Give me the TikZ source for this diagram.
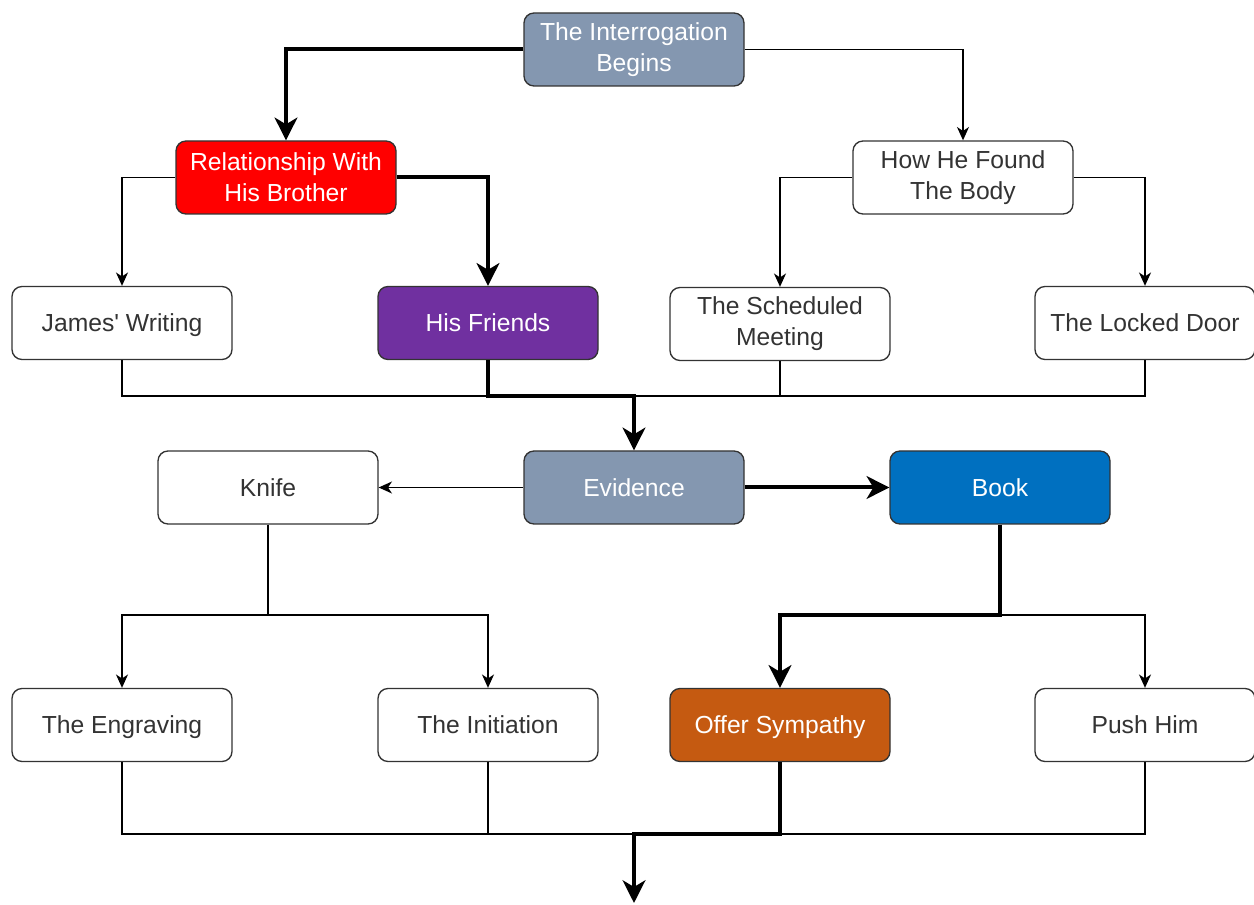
\documentclass[tikz,border=0pt]{standalone}
\usepackage{fontspec}
\setmainfont{Liberation Sans}[Ligatures=TeXOff]
\usetikzlibrary{arrows.meta}
\definecolor{slate}{HTML}{8497B0}
\definecolor{redbox}{HTML}{FF0000}
\definecolor{purplebox}{HTML}{7030A0}
\definecolor{bluebox}{HTML}{0070C0}
\definecolor{orangebox}{HTML}{C55A11}
\definecolor{edgegray}{HTML}{333333}
\definecolor{txtgray}{HTML}{333333}
\tikzset{
  box/.style={draw=edgegray, line width=1pt, rounded corners=7.5pt, minimum width=165pt, minimum height=54.75pt, inner sep=0pt, align=center, font=\fontsize{18.5pt}{23.25pt}\selectfont},
  oneline/.style={text height=15pt, text depth=2pt},
  plainbox/.style={box, fill=white, text=txtgray},
  colbox/.style={box, text=white},
  thin link/.style={draw=black, line width=1pt, -{Stealth[length=10pt,width=9pt,inset=3pt]}},
  thin line/.style={draw=black, line width=1pt},
  thick link/.style={draw=black, line width=3pt, -{Stealth[length=17pt,width=17pt,inset=5pt]}},
  thick line/.style={draw=black, line width=3pt},
}
\begin{document}
\begin{tikzpicture}[x=0.75pt,y=-0.75pt]
\useasboundingbox (0,0) rectangle (1254,905);
% nodes
\node[colbox, fill=slate] (int) at (634,49.5) {The Interrogation\\Begins};
\node[colbox, fill=redbox] (rel) at (286,177.5) {Relationship With\\His Brother};
\node[plainbox] (how) at (963,177.5) {How He Found\\The Body};
\node[plainbox, oneline] (james) at (122,323) {James' Writing};
\node[colbox, fill=purplebox, oneline] (friends) at (488,323) {His Friends};
\node[plainbox] (sched) at (780,324) {The Scheduled\\Meeting};
\node[plainbox, oneline] (locked) at (1145,323) {The Locked Door};
\node[plainbox, oneline] (knife) at (268,487.5) {Knife};
\node[colbox, fill=slate, oneline] (evi) at (634,487.5) {Evidence};
\node[colbox, fill=bluebox, oneline] (book) at (1000,487.5) {Book};
\node[plainbox, oneline] (engr) at (122,725) {The Engraving};
\node[plainbox, oneline] (init) at (488,725) {The Initiation};
\node[colbox, fill=orangebox, oneline] (offer) at (780,725) {Offer Sympathy};
\node[plainbox, oneline] (push) at (1145,725) {Push Him};
% junction coordinates
\coordinate (m1) at (634,396);
\coordinate (k1) at (268,615);
\coordinate (b1) at (1000,615);
\coordinate (m2) at (634,834);
\coordinate (endc) at (634,903);
% top level
\draw[thick link] (int.west) -| (rel.north);
\draw[thin link] (int.east) -| (how.north);
\draw[thin link] (rel.west) -| (james.north);
\draw[thick link] (rel.east) -| (friends.north);
\draw[thin link] (how.west) -| (sched.north);
\draw[thin link] (how.east) -| (locked.north);
% merge into evidence
\draw[thin line] (james.south) |- (m1);
\draw[thin line] (sched.south) |- (m1);
\draw[thin line] (locked.south) |- (m1);
\draw[thick link] (friends.south) |- (m1) -- (evi.north);
% evidence branches
\draw[thin link] (evi.west) -- (knife.east);
\draw[thick link] (evi.east) -- (book.west);
\draw[thin line] (knife.south) -- (k1);
\draw[thin link] (k1) -| (engr.north);
\draw[thin link] (k1) -| (init.north);
\draw[thin link] (b1) -| (push.north);
\draw[thick link] (book.south) -- (b1) -| (offer.north);
% bottom merge
\draw[thin line] (engr.south) |- (m2);
\draw[thin line] (init.south) |- (m2);
\draw[thin line] (push.south) |- (m2);
\draw[thick link] (offer.south) |- (m2) -- (endc);
\end{tikzpicture}
\end{document}
